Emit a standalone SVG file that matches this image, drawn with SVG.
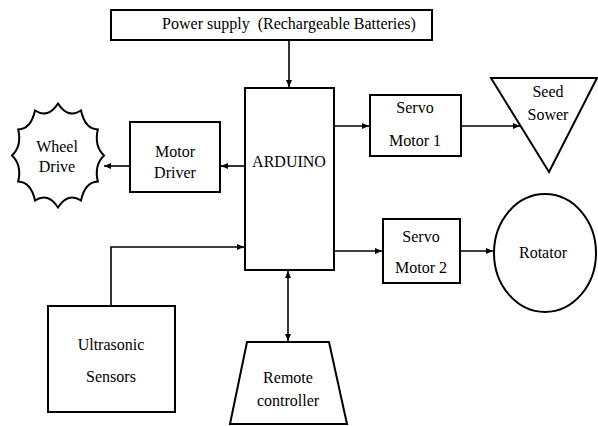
<svg xmlns="http://www.w3.org/2000/svg" width="598" height="426" viewBox="0 0 598 426" font-family="'Liberation Serif', 'DejaVu Serif', serif">
<style>
.shape{fill:#fff;stroke:#000;stroke-width:2}
.line{fill:none;stroke:#000;stroke-width:1.6}
.t{font-family:'Liberation Serif','Times New Roman','DejaVu Serif',serif;font-size:16px;fill:#000;text-anchor:middle}
</style>
<defs>
<marker id="ah" markerUnits="userSpaceOnUse" markerWidth="8" markerHeight="8" refX="7" refY="4" orient="auto">
<path d="M0,1 L7,4 L0,7 Z" fill="#000"/>
</marker>
<marker id="as" markerUnits="userSpaceOnUse" markerWidth="8" markerHeight="8" refX="1" refY="4" orient="auto">
<path d="M8,1 L1,4 L8,7 Z" fill="#000"/>
</marker>
</defs>
<rect width="598" height="426" fill="#fff"/>
<g id="connectors">
<path class="line" d="M289,40 V87" marker-end="url(#ah)"/>
<path class="line" d="M334,126 H369" marker-end="url(#ah)"/>
<path class="line" d="M461,126 H520" marker-end="url(#ah)"/>
<path class="line" d="M334,251 H382" marker-end="url(#ah)"/>
<path class="line" d="M460,251 H493" marker-end="url(#ah)"/>
<path class="line" d="M245,166 H221" marker-end="url(#ah)"/>
<path class="line" d="M130,166 H104" marker-end="url(#ah)"/>
<path class="line" d="M111,306 V247 H244" marker-end="url(#ah)"/>
<path class="line" d="M288,271 V341" marker-start="url(#as)" marker-end="url(#ah)"/>
</g>
<g id="power-supply">
<rect class="shape" x="111" y="10" width="321" height="30"/>
<text class="t" x="289" y="29" xml:space="preserve">Power supply  (Rechargeable Batteries)</text>
</g>
<g id="arduino">
<rect class="shape" x="245" y="88" width="89" height="182"/>
<text class="t" x="289" y="167">ARDUINO</text>
</g>
<g id="servo-motor-1">
<rect class="shape" x="370" y="95" width="91" height="61"/>
<text class="t" x="415" y="113">Servo</text>
<text class="t" x="415" y="146">Motor 1</text>
</g>
<g id="seed-sower">
<polygon class="shape" points="491,78 597,78 549,172"/>
<text class="t" x="548" y="97">Seed</text>
<text class="t" x="548" y="120">Sower</text>
</g>
<g id="servo-motor-2">
<rect class="shape" x="383" y="219" width="77" height="64"/>
<text class="t" x="421" y="242">Servo</text>
<text class="t" x="421" y="273">Motor 2</text>
</g>
<g id="rotator">
<ellipse class="shape" cx="545" cy="253" rx="51" ry="59"/>
<text class="t" x="543" y="258">Rotator</text>
</g>
<g id="motor-driver">
<rect class="shape" x="130" y="122" width="90" height="70"/>
<text class="t" x="175" y="157">Motor</text>
<text class="t" x="175" y="178">Driver</text>
</g>
<g id="wheel-drive">
<path class="shape" d="M58,103.5 Q68,119 81,110.5 Q85,129 97.8,129.5 Q94,146 104,155.5 Q94,165 97.8,181.5 Q85,182 81,200.5 Q68,192 58,207.5 Q48,192 35,200.5 Q31,182 18.2,181.5 Q22,165 12,155.5 Q22,146 18.2,129.5 Q31,129 35,110.5 Q48,119 58,103.5 Z"/>
<text class="t" x="57" y="152">Wheel</text>
<text class="t" x="57" y="172">Drive</text>
</g>
<g id="ultrasonic-sensors">
<rect class="shape" x="48" y="306" width="127" height="106"/>
<text class="t" x="111" y="350">Ultrasonic</text>
<text class="t" x="111" y="382">Sensors</text>
</g>
<g id="remote-controller">
<polygon class="shape" points="247,342 329,342 347,424 230,424"/>
<text class="t" x="288" y="383">Remote</text>
<text class="t" x="288" y="406">controller</text>
</g>
</svg>
